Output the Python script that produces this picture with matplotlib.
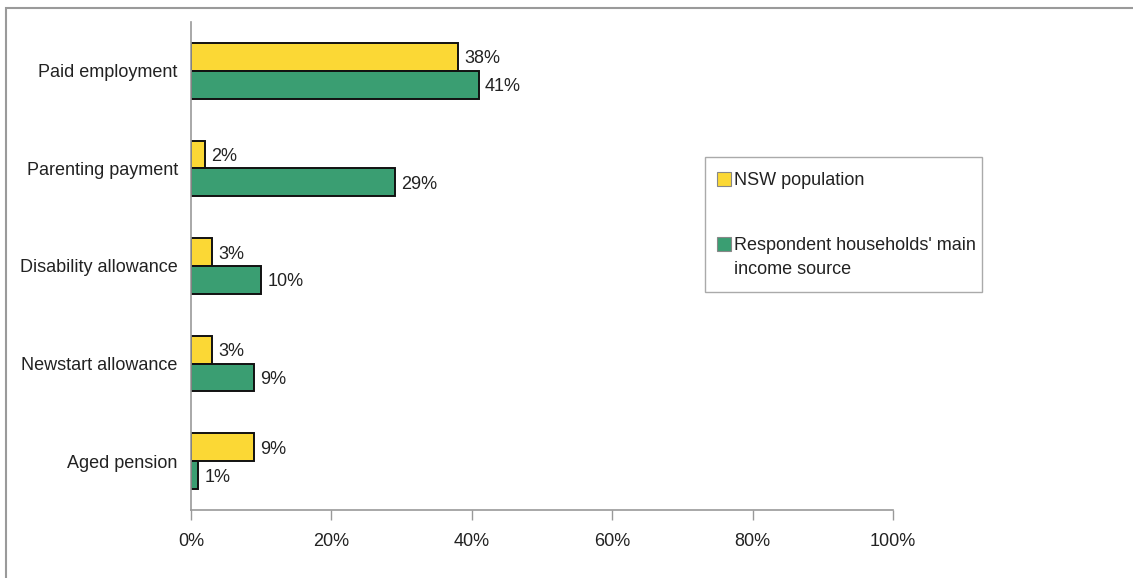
import matplotlib
matplotlib.use("Agg")
import matplotlib.pyplot as plt
from matplotlib.patches import Rectangle
import numpy as np

categories = ["Paid employment", "Parenting payment", "Disability allowance",
              "Newstart allowance", "Aged pension"]
nsw_population = [38, 2, 3, 3, 9]
respondent_households = [41, 29, 10, 9, 1]
series_labels = ["NSW population", "Respondent households' main\nincome source"]
xticks = [0, 20, 40, 60, 80, 100]
xtick_labels = ["0%", "20%", "40%", "60%", "80%", "100%"]

plt.rcParams['font.family'] = ['Liberation Sans', 'DejaVu Sans']

W, H = 1133, 578
fig = plt.figure(figsize=(W / 100, H / 100), dpi=100)
FS = 13
TXT = '#222222'

# outer frame
fig.patches.append(Rectangle((6 / W, -0.1), 1.2, 1 - 8 / H + 0.1, transform=fig.transFigure,
                             fill=False, edgecolor='#9a9a9a', linewidth=1.5))

ax = fig.add_axes([191 / W, 1 - 510 / H, (893 - 191) / W, (510 - 22) / H])

yellow = '#FBD835'
green = '#3A9E72'
h = 0.285
y = np.arange(len(categories))

ax.barh(y - h / 2, nsw_population, height=h, color=yellow, edgecolor='#111111', linewidth=1.4)
ax.barh(y + h / 2, respondent_households, height=h, color=green, edgecolor='#111111', linewidth=1.4)

for i in range(len(categories)):
    ax.annotate(f"{nsw_population[i]}%", (nsw_population[i], y[i] - h / 2), xytext=(4.5, -1.5),
                textcoords='offset points', va='center', ha='left', fontsize=FS, color=TXT)
    ax.annotate(f"{respondent_households[i]}%", (respondent_households[i], y[i] + h / 2), xytext=(4.5, -1.5),
                textcoords='offset points', va='center', ha='left', fontsize=FS, color=TXT)

ax.set_xlim(0, 100)
ax.set_ylim(4.5, -0.5)
ax.set_yticks(y)
ax.set_yticklabels(categories, fontsize=FS, color=TXT)
ax.tick_params(axis='y', length=0, pad=9.5)
ax.set_xticks(xticks)
ax.set_xticklabels(xtick_labels, fontsize=FS, color=TXT)
ax.tick_params(axis='x', length=7, width=1, color='#999999', pad=9.5)

for s in ['top', 'right']:
    ax.spines[s].set_visible(False)
for s in ['left', 'bottom']:
    ax.spines[s].set_color('#999999')
    ax.spines[s].set_linewidth(1.2)

# legend box drawn manually to match layout
def fx(px):
    return px / W

def fy(py):
    return 1 - py / H

fig.patches.append(Rectangle((fx(705), fy(292)), fx(982) - fx(705), fy(157) - fy(292),
                             transform=fig.transFigure, facecolor='white',
                             edgecolor='#aaaaaa', linewidth=1.0))
colors = [yellow, green]
sq_tops = [172, 237]
text_tops = [172, 237]
for c, st, tt, lab in zip(colors, sq_tops, text_tops, series_labels):
    fig.patches.append(Rectangle((fx(717), fy(st + 14)), fx(731) - fx(717), fy(st) - fy(st + 14),
                                 transform=fig.transFigure, facecolor=c,
                                 edgecolor='#888888', linewidth=0.8))
    fig.text(fx(734), fy(tt), lab, ha='left', va='top', fontsize=FS, color=TXT,
             linespacing=1.5)

fig.savefig("out.png", dpi=100)
